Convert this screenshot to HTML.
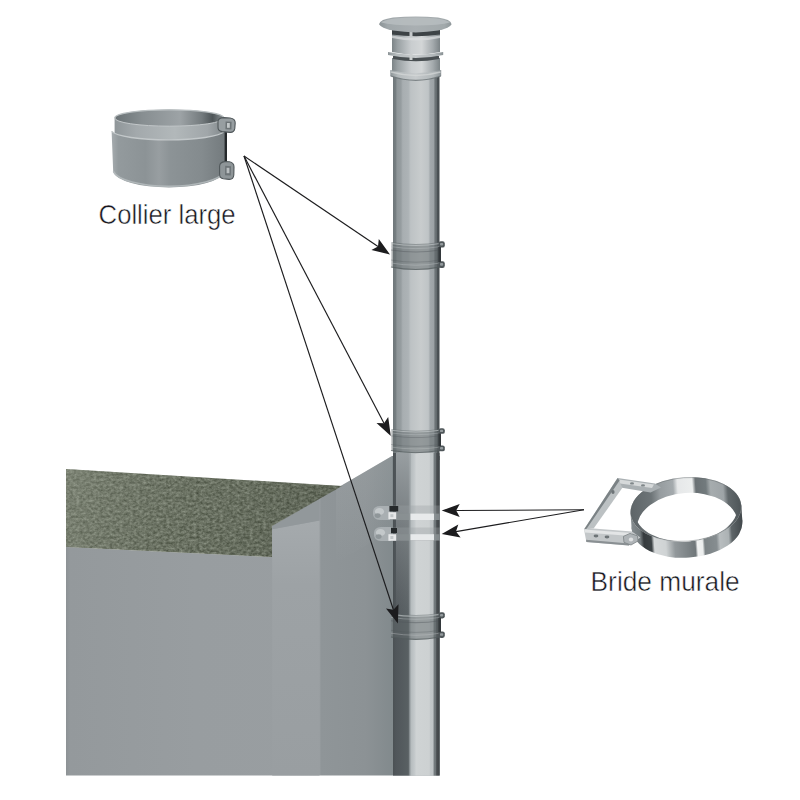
<!DOCTYPE html>
<html lang="fr">
<head>
<meta charset="utf-8">
<title>Collier large / Bride murale</title>
<style>
  html,body{margin:0;padding:0;background:#fff;}
  body{width:800px;height:800px;overflow:hidden;position:relative;font-family:"Liberation Sans",sans-serif;}
  svg{position:absolute;left:0;top:0;display:block;}
  .lbl{font-family:"Liberation Sans",sans-serif;font-size:28px;fill:#17171e;stroke:#fff;stroke-width:.5px;}
</style>
</head>
<body>
<svg width="800" height="800" viewBox="0 0 800 800">
  <defs>
    <!-- pipe shading (upper round part) -->
    <linearGradient id="gPipe" x1="0" x2="1" y1="0" y2="0">
      <stop offset="0" stop-color="#6f777a"/>
      <stop offset="0.06" stop-color="#767e81"/>
      <stop offset="0.085" stop-color="#8f9699"/>
      <stop offset="0.17" stop-color="#969da0"/>
      <stop offset="0.21" stop-color="#a8aeb1"/>
      <stop offset="0.33" stop-color="#adb3b6"/>
      <stop offset="0.38" stop-color="#bdc2c4"/>
      <stop offset="0.60" stop-color="#c8cccd"/>
      <stop offset="0.76" stop-color="#bfc4c6"/>
      <stop offset="0.80" stop-color="#a3a9ac"/>
      <stop offset="0.88" stop-color="#9ca2a5"/>
      <stop offset="0.90" stop-color="#70777a"/>
      <stop offset="0.935" stop-color="#656c6f"/>
      <stop offset="0.95" stop-color="#4c5255"/>
      <stop offset="1" stop-color="#474d50"/>
    </linearGradient>
    <!-- pipe shading (lower part, in front of wall) -->
    <linearGradient id="gPipeLow" x1="0" x2="1" y1="0" y2="0">
      <stop offset="0" stop-color="#4b5154"/>
      <stop offset="0.06" stop-color="#50565a"/>
      <stop offset="0.33" stop-color="#596063"/>
      <stop offset="0.36" stop-color="#8f9699"/>
      <stop offset="0.39" stop-color="#b6bcbe"/>
      <stop offset="0.46" stop-color="#c3c8ca"/>
      <stop offset="0.50" stop-color="#cfd3d4"/>
      <stop offset="0.78" stop-color="#cdd1d2"/>
      <stop offset="0.80" stop-color="#c2c7c9"/>
      <stop offset="0.86" stop-color="#bfc4c6"/>
      <stop offset="0.885" stop-color="#757c7f"/>
      <stop offset="0.92" stop-color="#6d7477"/>
      <stop offset="0.94" stop-color="#474c4f"/>
      <stop offset="1" stop-color="#424649"/>
    </linearGradient>
    <linearGradient id="gFade" x1="0" x2="0" y1="0" y2="1">
      <stop offset="0" stop-color="#a4aaad" stop-opacity=".85"/>
      <stop offset="0.35" stop-color="#979da0" stop-opacity=".6"/>
      <stop offset="1" stop-color="#8a9093" stop-opacity="0"/>
    </linearGradient>
    <linearGradient id="gCyl" x1="0" x2="1" y1="0" y2="0">
      <stop offset="0" stop-color="#7c8487"/>
      <stop offset="0.12" stop-color="#9aa1a4"/>
      <stop offset="0.40" stop-color="#c9cdcf"/>
      <stop offset="0.62" stop-color="#d3d6d7"/>
      <stop offset="0.85" stop-color="#a4aaad"/>
      <stop offset="1" stop-color="#7b8386"/>
    </linearGradient>
    <linearGradient id="gRing" x1="0" x2="1" y1="0" y2="0">
      <stop offset="0" stop-color="#8d9598"/>
      <stop offset="0.15" stop-color="#b4babc"/>
      <stop offset="0.5" stop-color="#c6cacc"/>
      <stop offset="0.85" stop-color="#b0b6b8"/>
      <stop offset="1" stop-color="#8a9295"/>
    </linearGradient>
    <linearGradient id="gHat" x1="0" x2="1" y1="0" y2="0">
      <stop offset="0" stop-color="#8a9295"/>
      <stop offset="0.12" stop-color="#a0a7aa"/>
      <stop offset="0.5" stop-color="#a9afb2"/>
      <stop offset="0.9" stop-color="#a2a9ab"/>
      <stop offset="1" stop-color="#8f979a"/>
    </linearGradient>
    <linearGradient id="gWall" gradientUnits="userSpaceOnUse" x1="66" x2="392" y1="0" y2="0">
      <stop offset="0" stop-color="#8d9295"/>
      <stop offset="0.012" stop-color="#94999c"/>
      <stop offset="0.40" stop-color="#989da0"/>
      <stop offset="0.777" stop-color="#999ea1"/>
      <stop offset="0.783" stop-color="#8f9598"/>
      <stop offset="0.92" stop-color="#8c9295"/>
      <stop offset="1" stop-color="#828a8d"/>
    </linearGradient>
    <linearGradient id="gFace" x1="0" x2="0" y1="0" y2="1">
      <stop offset="0" stop-color="#a5aaad"/>
      <stop offset="0.25" stop-color="#9da2a5"/>
      <stop offset="1" stop-color="#999ea1"/>
    </linearGradient>
    <linearGradient id="gWallTop" x1="0" x2="0" y1="0" y2="1">
      <stop offset="0" stop-color="#b4b9bb" stop-opacity=".55"/>
      <stop offset="1" stop-color="#b4b9bb" stop-opacity="0"/>
    </linearGradient>
    <linearGradient id="gSleeve" x1="0" x2="1" y1="0" y2="0">
      <stop offset="0" stop-color="#8f9699"/>
      <stop offset="0.2" stop-color="#a3a9ac"/>
      <stop offset="0.55" stop-color="#b2b8ba"/>
      <stop offset="0.85" stop-color="#a0a6a9"/>
      <stop offset="1" stop-color="#80878a"/>
    </linearGradient>
    <linearGradient id="gInside" x1="0" x2="1" y1="0" y2="0">
      <stop offset="0" stop-color="#6a7275"/>
      <stop offset="0.25" stop-color="#878e91"/>
      <stop offset="0.6" stop-color="#9da3a6"/>
      <stop offset="0.8" stop-color="#747b7e"/>
      <stop offset="0.9" stop-color="#4e5558"/>
      <stop offset="1" stop-color="#8b9295"/>
    </linearGradient>
    <linearGradient id="gBand" x1="0" x2="1" y1="0" y2="0">
      <stop offset="0" stop-color="#a6acaf"/>
      <stop offset="0.06" stop-color="#939a9d"/>
      <stop offset="0.30" stop-color="#8c9396"/>
      <stop offset="0.42" stop-color="#989ea1"/>
      <stop offset="0.52" stop-color="#8c9396"/>
      <stop offset="0.8" stop-color="#848b8e"/>
      <stop offset="1" stop-color="#747b7e"/>
    </linearGradient>
    <clipPath id="cTop"><ellipse cx="686.5" cy="509.4" rx="55.5" ry="32.1"/></clipPath>
    <clipPath id="cTopIn"><ellipse cx="686.8" cy="509.4" rx="51.6" ry="32.1"/></clipPath>
    <mask id="mFront" maskUnits="userSpaceOnUse" x="615" y="460" width="145" height="115">
      <rect x="615" y="460" width="145" height="115" fill="#fff"/>
      <ellipse cx="686.5" cy="509.4" rx="55.5" ry="32.1" fill="#000"/>
    </mask>
    <linearGradient id="gRear" gradientUnits="userSpaceOnUse" x1="630" x2="743" y1="0" y2="0">
      <stop offset="0" stop-color="#5d6467"/>
      <stop offset="0.20" stop-color="#6d7477"/>
      <stop offset="0.28" stop-color="#969c9f"/>
      <stop offset="0.40" stop-color="#a4aaad"/>
      <stop offset="0.44" stop-color="#e6e8e9"/>
      <stop offset="0.57" stop-color="#eceeee"/>
      <stop offset="0.60" stop-color="#6a7174"/>
      <stop offset="0.69" stop-color="#727a7d"/>
      <stop offset="0.73" stop-color="#a6acae"/>
      <stop offset="0.84" stop-color="#9ea4a7"/>
      <stop offset="0.88" stop-color="#62696c"/>
      <stop offset="1" stop-color="#4c5356"/>
    </linearGradient>
    <linearGradient id="gFront" gradientUnits="userSpaceOnUse" x1="630" x2="743" y1="0" y2="0">
      <stop offset="0" stop-color="#858c8f"/>
      <stop offset="0.08" stop-color="#757c7f"/>
      <stop offset="0.11" stop-color="#363b3e"/>
      <stop offset="0.175" stop-color="#3d4346"/>
      <stop offset="0.20" stop-color="#d6d9da"/>
      <stop offset="0.30" stop-color="#cfd3d4"/>
      <stop offset="0.38" stop-color="#92989b"/>
      <stop offset="0.56" stop-color="#70777a"/>
      <stop offset="0.58" stop-color="#f1f2f2"/>
      <stop offset="0.625" stop-color="#eceeee"/>
      <stop offset="0.645" stop-color="#7c8386"/>
      <stop offset="0.75" stop-color="#868d90"/>
      <stop offset="0.78" stop-color="#b8bdbf"/>
      <stop offset="0.86" stop-color="#acb2b4"/>
      <stop offset="0.89" stop-color="#5e6568"/>
      <stop offset="1" stop-color="#3f4548"/>
    </linearGradient>
    <linearGradient id="gClamp" x1="0" x2="1" y1="0" y2="0">
      <stop offset="0" stop-color="#7d8588"/>
      <stop offset="0.15" stop-color="#8e9699"/>
      <stop offset="0.5" stop-color="#a7adb0"/>
      <stop offset="0.8" stop-color="#8f979a"/>
      <stop offset="1" stop-color="#5c6467"/>
    </linearGradient>
    <g id="clamp">
      <!-- band -->
      <path d="M391.4,0 Q416,4 440,0 L440,25.5 Q416,30.5 391.4,25.5 Z" fill="#5f676a" opacity=".5"/>
      <path d="M391,1.5 Q416,5.5 440,1.5" fill="none" stroke="#c9ced0" stroke-width="1.2" opacity=".6"/>
      <path d="M391,4.6 Q416,8.6 440,4.6" fill="none" stroke="#bfc4c6" stroke-width="1" opacity=".4"/>
      <path d="M391,8 Q416,12 440,8" fill="none" stroke="#4f5659" stroke-width="1.1" opacity=".4"/>
      <path d="M391,18 Q416,22.4 440,18" fill="none" stroke="#4f5659" stroke-width="1" opacity=".3"/>
      <path d="M391,21 Q416,25.4 440,21" fill="none" stroke="#c0c5c7" stroke-width="1" opacity=".4"/>
      <path d="M391,25 Q416,30 440,25" fill="none" stroke="#4f5659" stroke-width="1.2" opacity=".6"/>
      <!-- tabs -->
      <rect x="438.6" y="-0.8" width="6.2" height="6.4" rx="2.2" fill="#4f5659"/>
      <rect x="440" y="1" width="3.2" height="2.6" rx="1" fill="#949b9e"/>
      <rect x="438.6" y="19.2" width="6.2" height="6.8" rx="2.2" fill="#4f5659"/>
      <rect x="440" y="21" width="3.2" height="2.8" rx="1" fill="#949b9e"/>
      <rect x="438.4" y="5" width="2.6" height="15" fill="#33383b"/>
    </g>
    <filter id="fWool" x="0" y="0" width="100%" height="100%" color-interpolation-filters="sRGB">
      <feTurbulence type="fractalNoise" baseFrequency="0.3 0.38" numOctaves="3" seed="11" result="n"/>
      <feGaussianBlur in="n" stdDeviation="0.6" result="nb"/>
      <feColorMatrix in="nb" type="matrix" values="0.38 0 0 0 0.215  0.38 0 0 0 0.243  0.38 0 0 0 0.183  0 0 0 0 1" result="c"/>
      <feComposite in="c" in2="SourceGraphic" operator="in"/>
    </filter>
    <linearGradient id="gWoolLight" gradientUnits="userSpaceOnUse" x1="66" y1="469" x2="300" y2="560">
      <stop offset="0" stop-color="#aab0a2" stop-opacity=".32"/>
      <stop offset="0.5" stop-color="#8a9083" stop-opacity=".10"/>
      <stop offset="1" stop-color="#3c4238" stop-opacity=".18"/>
    </linearGradient>
  </defs>

  <!-- WALL -->
  <g id="wall">
    <polygon points="66,547 272,557 272,526 392,456 440,456 440,775.6 66,775.6" fill="url(#gWall)"/>
    <polygon points="336,489 392,456 392,530 336,563" fill="url(#gWallTop)" opacity=".4"/>
    <polygon points="272.2,529.2 319.5,520.5 319.5,775.6 272.2,775.6" fill="url(#gFace)"/>
    <polygon points="272.2,526 319.5,498.4 319.5,520.5 272.2,529.2" fill="#92989b"/>
    <!-- rock wool strip on top of wall -->
    <polygon points="66,469 342,486 272,526 272,557 66,547" fill="#666d5f" filter="url(#fWool)"/>
    <polygon points="66,469 342,486 272,526 272,557 66,547" fill="url(#gWoolLight)"/>
  </g>

  <!-- PIPE -->
  <g id="pipe">
    <rect x="393" y="74" width="46.5" height="386" fill="url(#gPipe)"/>
    <rect x="393" y="453" width="46.5" height="322.6" fill="url(#gPipeLow)"/>
    <rect x="396" y="453" width="14" height="170" fill="url(#gFade)"/>
  </g>

  <!-- CHIMNEY CAP -->
  <g id="cap">
    <!-- lower cylinder -->
    <path d="M392,58 L440,58 L440,74 Q416,80 392,74 Z" fill="url(#gCyl)"/>
    <!-- rolled ring at bottom -->
    <path d="M390.3,70 Q416,76.5 441.2,70 L441.2,76 Q416,84.6 390.3,76 Z" fill="url(#gRing)"/>
    <path d="M391,72 Q416,79 440.6,72" fill="none" stroke="#d5d8d9" stroke-width="1.6" opacity=".7"/>
    <path d="M390.6,76 Q416,84.6 441,76" fill="none" stroke="#676f72" stroke-width="1.2" opacity=".75"/>
    <!-- dark slot -->
    <path d="M393,56 L439,56 L439,59 Q416,63.5 393,59 Z" fill="#4a5053"/>
    <!-- upper cylinder -->
    <path d="M392,33 L440,33 L440,52 Q416,57 392,52 Z" fill="url(#gCyl)"/>
    <path d="M392,35.5 Q416,40.5 440,35.5 L440,38 Q416,43 392,38 Z" fill="#d9dcdd" opacity=".75"/>
    <!-- middle flange -->
    <path d="M388,52 Q416,57.5 443.2,52 L443.2,55 Q416,61 388,55 Z" fill="url(#gRing)"/>
    <!-- dark gap under the hat -->
    <path d="M392,29 L440,29 L440,34.5 Q416,38 392,34.5 Z" fill="#3d4346"/>
    <rect x="409.5" y="31" width="3" height="6.5" fill="#c5c9cb"/>
    <rect x="409.5" y="54" width="3" height="6" fill="#c9cdce"/>
    <!-- hat -->
    <path d="M379,24.2 Q380,19.5 393,17.6 Q416,15.6 438,17.6 Q451,19.5 451.6,24.2 Q450,28 438,30.6 Q416,34.2 393,30.6 Q381,28 379,24.2 Z" fill="url(#gHat)"/>
    <path d="M381,22.6 Q384,19.6 395,18.4 Q416,16.6 436,18.4 Q447,19.6 450,22.6 Q440,25.4 416,25.6 Q392,25.4 381,22.6 Z" fill="#b7bdbf" opacity=".85"/>
  </g>

  <!-- CLAMPS ON PIPE (collier large x3) -->
  <g id="clamps">
    <use href="#clamp" transform="translate(0,242)"/>
    <use href="#clamp" transform="translate(0,429) scale(1,.86)"/>
    <use href="#clamp" transform="translate(0,613) scale(1,.96)"/>
  </g>

  <!-- WALL BRACKET ON PIPE (bride murale) -->
  <g id="bracket">
    <!-- translucent ring bodies -->
    <rect x="393" y="505.5" width="47" height="14.5" fill="#9aa1a4" opacity=".35"/>
    <rect x="393" y="527.5" width="47" height="13.5" fill="#9aa1a4" opacity=".35"/>
    <!-- bright highlights on the lit face -->
    <rect x="410.5" y="513.6" width="23.5" height="6.4" fill="#eceeef" opacity=".92"/>
    <rect x="410.5" y="534.2" width="23.5" height="6" fill="#eceeef" opacity=".92"/>
    <rect x="434" y="513.6" width="5.5" height="6.4" fill="#8b9295" opacity=".8"/>
    <rect x="434" y="534.2" width="5.5" height="6" fill="#8b9295" opacity=".8"/>
    <rect x="396" y="513.6" width="14" height="6.4" fill="#8c9396" opacity=".55"/>
    <rect x="396" y="534.2" width="14" height="6" fill="#8c9396" opacity=".55"/>
    <!-- bolts fixed to the wall -->
    <g>
      <path d="M373,512 Q373,506.4 380,506 L390,506 L390,520 L380,520 Q373,519.6 373,514 Z" fill="#a9afb2"/>
      <ellipse cx="379.5" cy="511.5" rx="4.6" ry="3.6" fill="#c3c8ca"/>
      <ellipse cx="377.6" cy="515.6" rx="3" ry="2.4" fill="#8f9699"/>
      <rect x="389.4" y="506" width="8.8" height="5.4" fill="#25292b"/>
      <rect x="388.4" y="512.2" width="7.8" height="7" fill="#e6e8e9"/>
      <rect x="390.4" y="514.2" width="3" height="3" fill="#c2c7c9"/>
      <path d="M374,533 Q374,527.4 381,527 L391,527 L391,541 L381,541 Q374,540.6 374,535 Z" fill="#a9afb2"/>
      <ellipse cx="380.5" cy="532.5" rx="4.6" ry="3.6" fill="#c3c8ca"/>
      <ellipse cx="378.6" cy="536.6" rx="3" ry="2.4" fill="#8f9699"/>
      <rect x="391" y="528" width="6" height="5" fill="#25292b"/>
      <rect x="388.4" y="534.2" width="7.8" height="6.6" fill="#e6e8e9"/>
      <rect x="390.4" y="536" width="3" height="3" fill="#c2c7c9"/>
    </g>
  </g>

  <!-- COLLIER LARGE ILLUSTRATION -->
  <g id="collier">
    <!-- upper (inner) sleeve -->
    <path d="M114.6,118 A54.7,8.4 0 0 1 224,118 L224,133 A54.7,9 0 0 1 114.6,133 Z" fill="url(#gSleeve)"/>
    <ellipse cx="169.3" cy="118" rx="54.2" ry="8.3" fill="url(#gInside)"/>
    <path d="M114.8,118 A54.5,8.2 0 0 1 223.8,118" fill="none" stroke="#b9bfc1" stroke-width="1.3"/>
    <path d="M114.8,118 A54.5,8.2 0 0 0 223.8,118" fill="none" stroke="#c2c7c9" stroke-width="1"/>
    <!-- dark strip between tabs -->
    <rect x="224" y="131" width="3" height="32" fill="#25292b"/>
    <!-- lower (wide) band -->
    <path d="M111.6,131 A57,10 0 0 0 224.6,131 L224.6,172 A56,17.2 0 0 1 113.2,172 Z" fill="url(#gBand)"/>
    <path d="M111.8,131.4 A57,10 0 0 0 224.4,131.4" fill="none" stroke="#c3c8ca" stroke-width="1.4"/>
    <path d="M113.4,171.4 A56,17.2 0 0 0 224.4,171.4" fill="none" stroke="#b4babc" stroke-width="1.6" opacity=".9"/>
        <!-- tabs -->
    <g>
      <path d="M218,121 Q218.6,117.6 224,117.6 L230,118 Q235.4,118.8 235.2,123 L234.8,128.4 Q234.2,132.6 230,132.4 L222,131.6 Q217.8,131 218,127 Z" fill="#979ea1" stroke="#50575a" stroke-width="1.1"/>
      <path d="M225.6,121.4 L231.6,121.8 L231.4,129.6 L225.4,129.2 Z" fill="#6d7477"/>
      <rect x="227" y="123" width="2.8" height="4.8" fill="#c2c7c9"/>
      <path d="M219.6,166 Q220,162 224.6,161.6 L229.4,161.8 Q234,162.6 234,167 L233.8,175 Q233.4,179.6 229,179.4 L223.4,178.8 Q219.6,178.2 219.6,174 Z" fill="#8e9598" stroke="#50575a" stroke-width="1.1"/>
      <path d="M225.2,165.8 L231,166.2 L230.8,175.6 L225,175.2 Z" fill="#6d7477"/>
      <rect x="226.6" y="167.8" width="2.8" height="5.4" fill="#b9bec0"/>
    </g>
  </g>

  <!-- BRIDE MURALE ILLUSTRATION -->
  <g id="bride">
    <g transform="rotate(-4 686.5 517.5)">
      <!-- rear inner surface of ring: inside top ellipse -->
      <g clip-path="url(#cTop)">
        <rect x="620" y="465" width="135" height="105" fill="url(#gRear)"/>
      </g>
      <!-- front outer surface of ring: inside bottom ellipse / side rect, outside top ellipse -->
      <g mask="url(#mFront)">
        <ellipse cx="686.5" cy="525.4" rx="55.5" ry="32.3" fill="url(#gFront)"/>
        <rect x="631" y="509.4" width="111" height="16" fill="url(#gFront)"/>
      </g>
      <!-- white hole -->
      <g clip-path="url(#cTopIn)">
        <ellipse cx="686.8" cy="525.4" rx="50.4" ry="32.4" fill="#ffffff"/>
      </g>
      <ellipse cx="686.5" cy="509.4" rx="55.2" ry="31.8" fill="none" stroke="#5f6669" stroke-width="0.8" opacity=".55"/>
    </g>
    <!-- rectangular wall frame -->
    <g>
      <!-- top bar -->
      <polygon points="617.6,478 655,483.4 661,487.4 650.6,492.4 620.4,487.4" fill="#aab0b3"/>
      <polygon points="619,479.6 654,484.6 652,488 620,483.4" fill="#d6d9da"/>
      <!-- left bar -->
      <polygon points="617.6,478 622.4,487.8 593.6,528.6 584,529.6" fill="#bcc1c3"/>
      <polygon points="617.6,478 619.6,480.6 586.6,528.8 584,529.6" fill="#7b8285"/>
      <!-- bottom bar / front plate -->
      <polygon points="584,529.6 593.6,528.4 632,531.4 640.4,537.4 629,545.6 586.4,542" fill="#c3c7c9"/>
      <polygon points="584,529.6 632,533 631,536 585,532.6" fill="#e3e5e6"/>
      <polygon points="586.4,542 629,545.6 629.4,543.4 586,539.8" fill="#8a9093"/>
      <polygon points="623.4,536.4 630,533.4 637.4,535.8 638,541 631,545 624,542.4" fill="#aeb3b6" stroke="#7b8184" stroke-width=".8"/>
      <ellipse cx="596" cy="536" rx="2.4" ry="1.4" fill="#6d7477"/>
      <ellipse cx="607" cy="537" rx="2.4" ry="1.4" fill="#6d7477"/>
      <ellipse cx="631" cy="539.4" rx="2.2" ry="2" fill="#dfe1e2"/>
      <ellipse cx="613" cy="492" rx="1.6" ry="2" fill="#6d7477"/>
      <ellipse cx="632" cy="483.4" rx="2" ry="1.2" fill="#80878a"/>
      <ellipse cx="643" cy="485.4" rx="2" ry="1.2" fill="#80878a"/>
    </g>
  </g>

  <!-- ARROWS -->
  <g id="arrows" stroke="#1c1c1e" stroke-width="1.15" fill="#1c1c1e" stroke-linejoin="miter">
    <line x1="244.0" y1="156.0" x2="378.0" y2="246.4"/><polygon points="390.0,254.5 371.4,249.9 378.0,246.4 378.8,239.0" stroke="none"/>
    <line x1="244.0" y1="156.0" x2="384.0" y2="423.2"/><polygon points="390.8,436.0 376.5,423.1 384.0,423.2 388.2,417.0" stroke="none"/>
    <line x1="244.0" y1="156.0" x2="393.4" y2="609.7"/><polygon points="397.9,623.5 386.0,608.5 393.4,609.7 398.5,604.3" stroke="none"/>
    <line x1="584.0" y1="509.8" x2="456.2" y2="510.5"/><polygon points="441.7,510.6 459.7,503.9 456.2,510.5 459.7,517.1" stroke="none"/>
    <line x1="584.0" y1="509.8" x2="456.0" y2="531.6"/><polygon points="441.7,534.0 458.3,524.5 456.0,531.6 460.6,537.5" stroke="none"/>
  </g>

  <!-- LABELS -->
  <text class="lbl" x="98.6" y="224.3" textLength="137" lengthAdjust="spacingAndGlyphs">Collier large</text>
  <text class="lbl" x="590.6" y="591" textLength="149" lengthAdjust="spacingAndGlyphs">Bride murale</text>
</svg>
</body>
</html>
